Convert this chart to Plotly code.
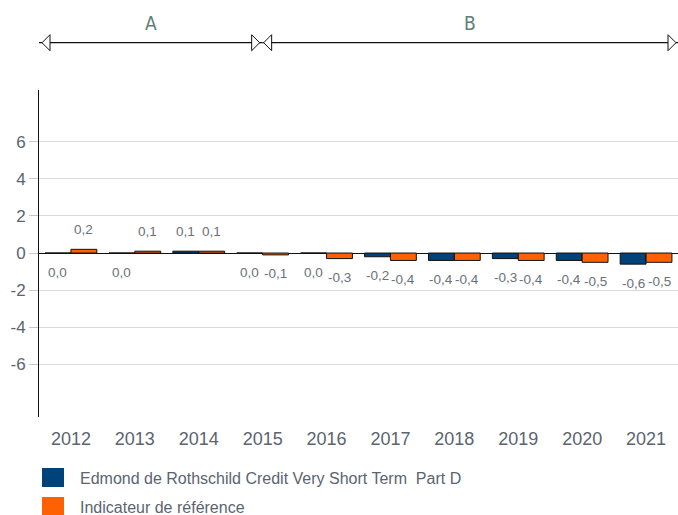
import plotly.graph_objects as go

years = ["2012", "2013", "2014", "2015", "2016", "2017", "2018", "2019", "2020", "2021"]
fund = [0.0, 0.0, 0.1, 0.0, 0.0, -0.2, -0.4, -0.3, -0.4, -0.6]
benchmark = [0.2, 0.1, 0.1, -0.1, -0.3, -0.4, -0.4, -0.4, -0.5, -0.5]
series_names = ["Edmond de Rothschild Credit Very Short Term  Part D", "Indicateur de référence"]
series_colors = ["#00427A", "#FF6000"]
y_ticks = [-6, -4, -2, 0, 2, 4, 6]
periods = ["A", "B"]
period_bounds = [(-0.5, 3), (3, 9.5)]

GREY = "#5B6470"

fig = go.Figure()
for name, vals, col in zip(series_names, [fund, benchmark], series_colors):
    fig.add_trace(go.Bar(x=years, y=vals, name=name, marker=dict(color=col, line=dict(color="#111111", width=1)),
                         showlegend=False, hoverinfo="skip"))

annotations = []
shapes = []
# value labels
for vals, shift in zip([fund, benchmark], [-13, 13]):
    for i, v in enumerate(vals):
        annotations.append(dict(x=i, y=v, xref="x", yref="y", text=f"{v:.1f}".replace(".", ","),
                                showarrow=False, xshift=shift, yshift=(20 if v > 0 else -19),
                                xanchor="center", yanchor="middle", font=dict(size=13.5, color="#6B7078")))

# period arrows
ARROW_Y = 1.1446
for label, (a, b), (g0, g1) in zip(periods, period_bounds, [(3, -3), (1, -2)]):
    shapes.append(dict(type="line", xref="x", yref="paper", x0=a, x1=b, y0=ARROW_Y, y1=ARROW_Y,
                       line=dict(color="#111111", width=1.3)))
    shapes.append(dict(type="path", xref="x", yref="paper", xsizemode="pixel", ysizemode="pixel",
                       xanchor=a, yanchor=ARROW_Y,
                       path=f"M {g0},0 L {g0 + 8},8 L {g0 + 8},-8 Z",
                       fillcolor="white", line=dict(color="#111111", width=1)))
    shapes.append(dict(type="path", xref="x", yref="paper", xsizemode="pixel", ysizemode="pixel",
                       xanchor=b, yanchor=ARROW_Y,
                       path=f"M {g1},0 L {g1 - 8},8 L {g1 - 8},-8 Z",
                       fillcolor="white", line=dict(color="#111111", width=1)))
    annotations.append(dict(x=(a + b) / 2, y=1.205, xref="x", yref="paper", text=label, showarrow=False,
                            xanchor="center", yanchor="middle",
                            font=dict(size=19, color="#5E7E78", family="DejaVu Sans Condensed, Liberation Sans Narrow, sans-serif")))

# custom legend
for i, (name, col) in enumerate(zip(series_names, series_colors)):
    top = -51 - 29 * i
    shapes.append(dict(type="rect", xref="paper", yref="paper", xsizemode="pixel", ysizemode="pixel",
                       xanchor=0, yanchor=0, x0=3, x1=25, y0=top, y1=top - 19,
                       fillcolor=col, line=dict(width=0)))
    annotations.append(dict(x=0, y=0, xref="paper", yref="paper", xanchor="left", yanchor="middle",
                            xshift=39, yshift=top - 10, text=name, showarrow=False,
                            font=dict(size=16, color=GREY)))

fig.update_layout(
    width=678, height=515,
    margin=dict(l=39, r=0, t=90, b=98),
    paper_bgcolor="white", plot_bgcolor="white",
    barmode="group", bargap=0.19, bargroupgap=0,
    font=dict(family="Liberation Sans, Arial, sans-serif", color=GREY),
    annotations=annotations, shapes=shapes,
    xaxis=dict(type="category", showgrid=False, showline=False, ticks="", tickfont=dict(size=18, color=GREY),
               ticklabelstandoff=9, range=[-0.5, 9.5]),
    yaxis=dict(range=[-8.85, 8.8], tickvals=y_ticks, ticktext=[str(t) for t in y_ticks],
               showgrid=True, gridcolor="#D9D9D9", gridwidth=1,
               zeroline=True, zerolinecolor="#111111", zerolinewidth=1,
               showline=True, linecolor="#111111", linewidth=1,
               ticks="outside", ticklen=9, tickcolor="#C8C8C8",
               tickfont=dict(size=17, color=GREY)),
)

fig.write_html("out.html", config={"displayModeBar": False},
               post_script="document.body.style.margin='0';document.body.style.overflow='hidden';")
